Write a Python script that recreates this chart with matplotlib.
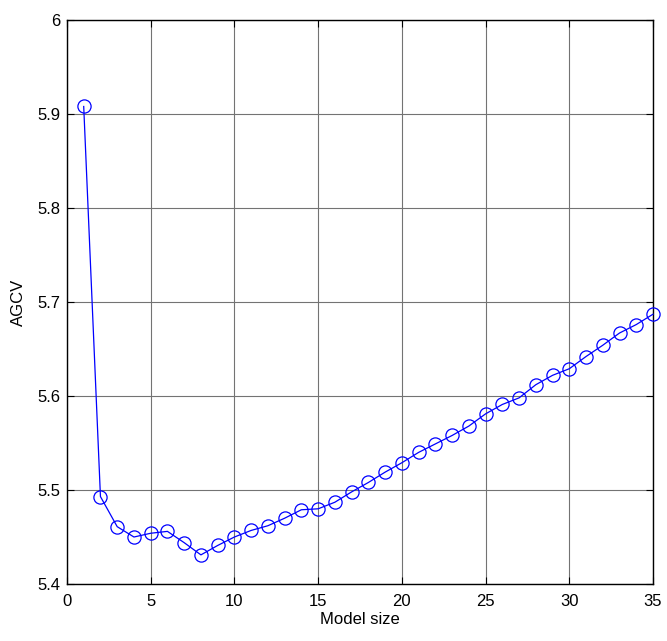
import matplotlib
matplotlib.use("Agg")
import matplotlib.pyplot as plt

model_size = list(range(1, 36))
agcv = [5.908, 5.493, 5.461, 5.450, 5.454, 5.456, 5.444, 5.431, 5.441, 5.450,
        5.457, 5.462, 5.470, 5.479, 5.480, 5.487, 5.498, 5.508, 5.519, 5.529,
        5.540, 5.549, 5.558, 5.568, 5.581, 5.591, 5.598, 5.612, 5.622, 5.629,
        5.642, 5.654, 5.667, 5.676, 5.687]

plt.rcParams['font.family'] = ['Liberation Sans', 'DejaVu Sans']

fig = plt.figure(figsize=(6.67, 6.41), dpi=100)
ax = fig.add_axes([0.1004, 0.0889, 0.8786, 0.8799])

ax.plot(model_size, agcv, color="#0000ff", linewidth=0.9, marker="o",
        markersize=9.5, markerfacecolor="none", markeredgecolor="#0000ff",
        markeredgewidth=0.9, clip_on=False, zorder=3)

ax.set_xlim(0, 35)
ax.set_ylim(5.4, 6.0)
ax.set_xticks(range(0, 36, 5))
ax.set_yticks([5.4, 5.5, 5.6, 5.7, 5.8, 5.9, 6.0])
ax.set_yticklabels(["5.4", "5.5", "5.6", "5.7", "5.8", "5.9", "6"])

ax.grid(True, color="0.45", linewidth=0.8, linestyle="-")
ax.set_axisbelow(True)
ax.tick_params(direction="in", top=True, right=True, length=5, width=0.8,
               labelsize=12, pad=5)
ax.tick_params(axis="x", pad=7)
for s in ax.spines.values():
    s.set_linewidth(1.0)

ax.set_xlabel("Model size", fontsize=12, labelpad=2)
ax.set_ylabel("AGCV", fontsize=12, labelpad=8)

fig.savefig("out.png", dpi=100)
